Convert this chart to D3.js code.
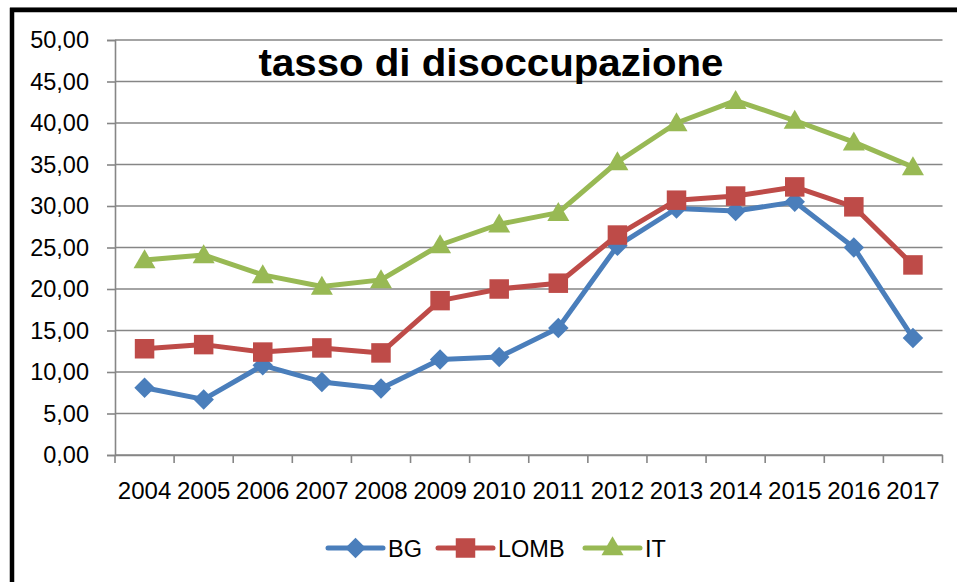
<!DOCTYPE html>
<html><head><meta charset="utf-8">
<script src="https://cdn.jsdelivr.net/npm/d3@7/dist/d3.min.js"></script>
<style>body{margin:0;background:#fff}svg{display:block}</style>
</head><body>
<svg id="c" width="957" height="582"></svg>
<script>
const years = ["2004","2005","2006","2007","2008","2009","2010","2011","2012","2013","2014","2015","2016","2017"];
const bg   = [8.1, 6.7, 10.8, 8.8, 8.0, 11.5, 11.8, 15.3, 25.2, 29.7, 29.4, 30.5, 25.0, 14.1];
const lomb = [12.8, 13.3, 12.4, 12.9, 12.3, 18.6, 20.0, 20.7, 26.5, 30.7, 31.2, 32.3, 29.9, 22.9];
const it   = [23.5, 24.1, 21.7, 20.3, 21.1, 25.3, 27.8, 29.2, 35.3, 40.0, 42.7, 40.3, 37.7, 34.7];
const yTicks = [0,5,10,15,20,25,30,35,40,45,50];
const seriesNames = ["BG","LOMB","IT"];
const title = "tasso di disoccupazione";

const diamond = { draw(ctx, size) { const r = Math.sqrt(size) / 2; ctx.moveTo(0, -r); ctx.lineTo(r, 0); ctx.lineTo(0, r); ctx.lineTo(-r, 0); ctx.closePath(); } };

const series = [
  {name: seriesNames[0], values: bg,   color: "#4A7EBB", marker: diamond, msize: 420},
  {name: seriesNames[1], values: lomb, color: "#BE4B48", marker: d3.symbolSquare,  msize: 380},
  {name: seriesNames[2], values: it,   color: "#98B954", marker: d3.symbolTriangle, msize: 210}
];

const svg = d3.select("#c");
const font = "'Liberation Sans', Arial, sans-serif";

// frame
svg.append("line").attr("x1",10).attr("x2",957).attr("y1",7.5).attr("y2",7.5).attr("stroke","#999").attr("stroke-width",1);
svg.append("path").attr("d","M12,600 V10 H960").attr("fill","none").attr("stroke","#000").attr("stroke-width",4.5);

const L = 115, R = 942.5, T = 40, B = 455;
const x = d3.scaleBand().domain(years).range([L, R]);
const y = d3.scaleLinear().domain([0, 50]).range([B, T]);

// gridlines
svg.append("g").selectAll("line").data(yTicks).join("line")
  .attr("x1", L).attr("x2", R).attr("y1", d => y(d)).attr("y2", d => y(d))
  .attr("stroke", "#868686").attr("stroke-width", 1.6);

// y axis
const ya = svg.append("g").attr("transform", `translate(${L},0)`)
  .call(d3.axisLeft(y).tickValues(yTicks).tickSize(8).tickPadding(18)
    .tickFormat(d => d3.format(".2f")(d).replace(".", ",")));
ya.select(".domain").attr("stroke", "#868686").attr("stroke-width", 1.6);
ya.selectAll(".tick line").attr("stroke", "#868686").attr("stroke-width", 1.6);
ya.selectAll("text").attr("font-family", font).attr("font-size", 23.5).attr("fill", "#000");

// x axis
const xa = svg.append("g").attr("transform", `translate(0,${B})`)
  .call(d3.axisBottom(x).tickSizeInner(0).tickSizeOuter(0).tickPadding(27));
xa.select(".domain").attr("stroke", "#868686").attr("stroke-width", 1.6);
xa.selectAll("text").attr("font-family", font).attr("font-size", 24).attr("fill", "#000");
svg.append("g").selectAll("line").data(years.concat(["_end"])).join("line")
  .attr("x1", d => d === "_end" ? R : x(d)).attr("x2", d => d === "_end" ? R : x(d))
  .attr("y1", B).attr("y2", B + 8).attr("stroke", "#868686").attr("stroke-width", 1.6);

// title
svg.append("text").attr("x", 491).attr("y", 76).attr("text-anchor", "middle")
  .attr("font-family", font).attr("font-weight", "bold").attr("font-size", 38)
  .attr("textLength", 465).attr("lengthAdjust", "spacingAndGlyphs")
  .text(title);

// lines & markers
const line = d3.line().x((d, i) => x(years[i]) + x.bandwidth() / 2).y(d => y(d));
series.forEach(s => {
  const g = svg.append("g");
  g.append("path").attr("d", line(s.values)).attr("fill", "none")
    .attr("stroke", s.color).attr("stroke-width", 5).attr("stroke-linejoin", "round");
  g.selectAll("path.m").data(s.values).join("path").attr("class", "m")
    .attr("d", d3.symbol().type(s.marker).size(s.msize))
    .attr("transform", (d, i) => `translate(${x(years[i]) + x.bandwidth() / 2},${y(d) + (s.marker === d3.symbolTriangle ? 2 : 0)})`)
    .attr("fill", s.color);
});

// legend
const legX = [328, 438, 585];
const leg = svg.append("g");
series.forEach((s, i) => {
  const gx = legX[i], gy = 548;
  leg.append("line").attr("x1", gx).attr("x2", gx + 55).attr("y1", gy).attr("y2", gy)
    .attr("stroke", s.color).attr("stroke-width", 5).attr("stroke-linecap", "round");
  leg.append("path").attr("d", d3.symbol().type(s.marker).size(s.msize))
    .attr("transform", `translate(${gx + 27.5},${gy + (s.marker === d3.symbolTriangle ? 1 : 0)})`).attr("fill", s.color);
  leg.append("text").attr("x", gx + 60).attr("y", gy + 8.5).attr("font-family", font)
    .attr("font-size", 23.5).attr("fill", "#000").text(s.name);
});
</script>
</body></html>
